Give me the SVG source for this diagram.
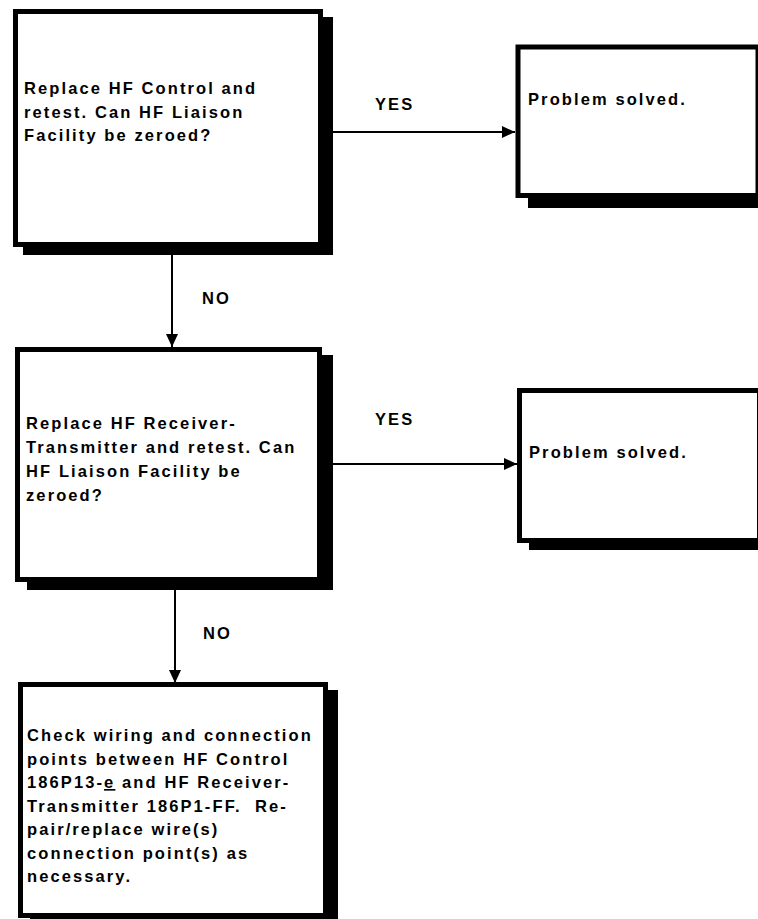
<svg xmlns="http://www.w3.org/2000/svg" width="758" height="919" viewBox="0 0 758 919">
<style>
.box{fill:#fff;stroke:#000;stroke-width:5}
.shadow{fill:#000}
.t{font-family:"Liberation Sans",Arial,sans-serif;font-weight:bold;font-size:16.5px;letter-spacing:2.1px;fill:#000;white-space:pre}
.conn{stroke:#000;stroke-width:2;fill:none}
</style>
<defs>
<marker id="arr" markerWidth="14" markerHeight="12" refX="13" refY="6" orient="auto" markerUnits="userSpaceOnUse">
<path d="M0,0 L13,6 L0,12 Z" fill="#000"/>
</marker>
</defs>
<rect width="758" height="919" fill="#fff"/>
<g id="connectors">
<line class="conn" x1="323" y1="132" x2="515" y2="132" marker-end="url(#arr)"/>
<line class="conn" x1="172" y1="247" x2="172" y2="347" marker-end="url(#arr)"/>
<line class="conn" x1="322" y1="464" x2="517" y2="464" marker-end="url(#arr)"/>
<line class="conn" x1="175" y1="582" x2="175" y2="683" marker-end="url(#arr)"/>
<text class="t" x="375" y="110">YES</text>
<text class="t" x="202" y="304">NO</text>
<text class="t" x="375" y="425">YES</text>
<text class="t" x="203" y="639">NO</text>
</g>
<g id="node1">
<rect class="shadow" x="23" y="17" width="310" height="238"/>
<rect class="box" x="15.5" y="11.5" width="305" height="233"/>
<text class="t" x="24" y="94">Replace HF Control and</text>
<text class="t" x="24" y="117.5">retest. Can HF Liaison</text>
<text class="t" x="24" y="141">Facility be zeroed?</text>
</g>
<g id="node2">
<rect class="shadow" x="528" y="55" width="240" height="153"/>
<rect class="box" x="518" y="47" width="240" height="148.5"/>
<text class="t" x="528" y="105">Problem solved.</text>
</g>
<g id="node3">
<rect class="shadow" x="27" y="355" width="306" height="235"/>
<rect class="box" x="17.5" y="349.5" width="302" height="230"/>
<text class="t" x="26" y="429">Replace HF Receiver-</text>
<text class="t" x="26" y="453">Transmitter and retest. Can</text>
<text class="t" x="26" y="477">HF Liaison Facility be</text>
<text class="t" x="26" y="501">zeroed?</text>
</g>
<g id="node4">
<rect class="shadow" x="529" y="398" width="240" height="152"/>
<rect class="box" x="519.5" y="390.5" width="240" height="150"/>
<text class="t" x="529" y="458">Problem solved.</text>
</g>
<g id="node5">
<rect class="shadow" x="30" y="690" width="308" height="240"/>
<rect class="box" x="20.5" y="684.5" width="305" height="231"/>
<text class="t" x="27" y="741">Check wiring and connection</text>
<text class="t" x="27" y="764.5">points between HF Control</text>
<text class="t" x="27" y="788">186P13-<tspan text-decoration="underline">e</tspan> and HF Receiver-</text>
<text class="t" x="27" y="811.5">Transmitter 186P1-FF.  Re-</text>
<text class="t" x="27" y="835">pair/replace wire(s)</text>
<text class="t" x="27" y="858.5">connection point(s) as</text>
<text class="t" x="27" y="882">necessary.</text>
</g>
</svg>
